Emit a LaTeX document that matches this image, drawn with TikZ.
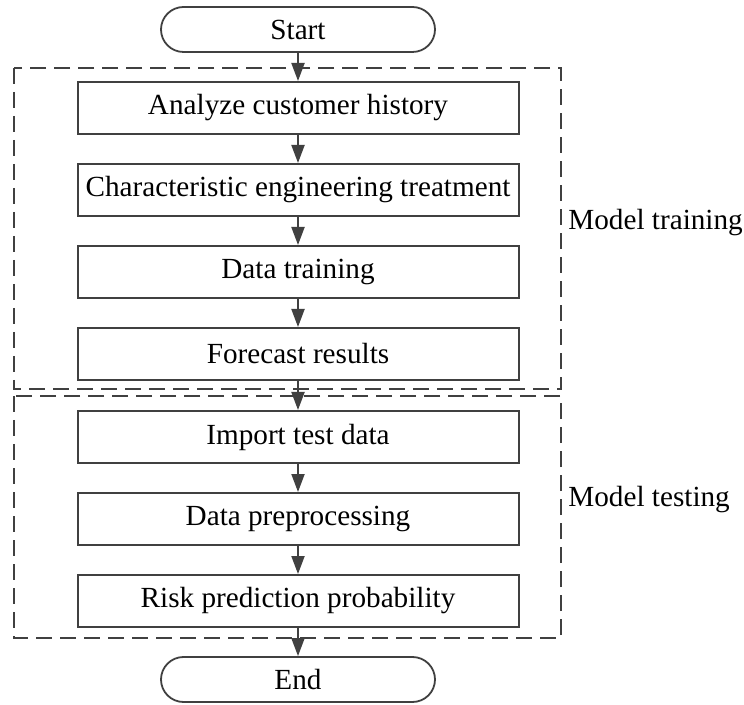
\documentclass[tikz,border=0pt]{standalone}
\usepackage{fontspec}
\setmainfont{Liberation Serif}
\usetikzlibrary{arrows.meta}
\definecolor{ln}{HTML}{404040}
\begin{document}
\begin{tikzpicture}[x=1pt,y=-1pt,
  font=\fontsize{14.6}{17}\selectfont,
  stepbox/.style={draw=ln,line width=1pt,minimum width=220.5pt,minimum height=26pt,inner sep=0pt,text=black},
  termbox/.style={draw=ln,line width=0.9pt,minimum width=137pt,minimum height=22.5pt,rounded corners=11.25pt,inner sep=0pt},
  flow/.style={draw=ln,line width=1pt,-{Triangle[length=9pt,width=6.5pt]}},
  group/.style={draw=ln,line width=1pt,dash pattern=on 8pt off 4pt},
  grouplabel/.style={anchor=west,inner sep=0pt}]
\useasboundingbox (0,0) rectangle (372,352.5);
\node[termbox] (start) at (149,14.75) {Start};
\node[stepbox] (b1) at (149,54) {Analyze customer history};
\node[stepbox] (b2) at (149,95) {Characteristic engineering treatment};
\node[stepbox] (b3) at (149,136) {Data training};
\node[stepbox] (b4) at (149,177) {Forecast results};
\node[stepbox] (b5) at (149,218.5) {Import test data};
\node[stepbox] (b6) at (149,259.5) {Data preprocessing};
\node[stepbox] (b7) at (149,300.5) {Risk prediction probability};
\node[termbox] (end) at (149,339.75) {End};
\draw[group] (7,34) rectangle (280.5,194.5);
\draw[group] (7,198) rectangle (280.5,319);
\node[grouplabel] (lt) at (284,111.5) {Model training};
\node[grouplabel] (ls) at (284,250) {Model testing};
\draw[flow] (start) -- (b1);
\draw[flow] (b1) -- (b2);
\draw[flow] (b2) -- (b3);
\draw[flow] (b3) -- (b4);
\draw[flow] (b4) -- (b5);
\draw[flow] (b5) -- (b6);
\draw[flow] (b6) -- (b7);
\draw[flow] (b7) -- (end);
\end{tikzpicture}
\end{document}
